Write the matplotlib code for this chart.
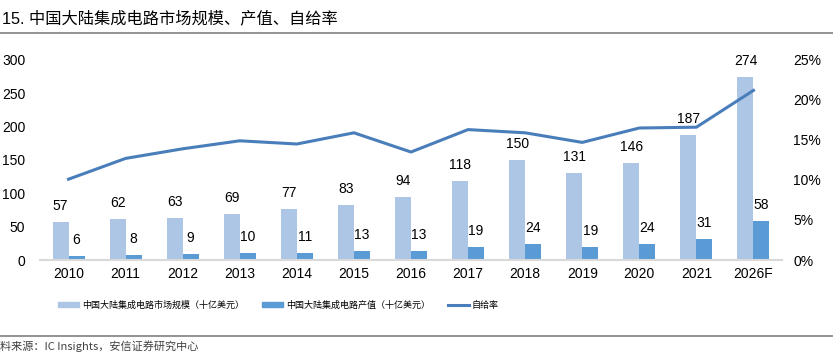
import matplotlib
matplotlib.use("Agg")
import matplotlib.pyplot as plt
import numpy as np
from matplotlib.lines import Line2D
from matplotlib.patches import Patch

plt.rcParams['font.family'] = ['Liberation Sans', 'Noto Sans CJK SC', 'DejaVu Sans']

years = ['2010', '2011', '2012', '2013', '2014', '2015', '2016', '2017', '2018', '2019', '2020', '2021', '2026F']
market = [57, 62, 63, 69, 77, 83, 94, 118, 150, 131, 146, 187, 274]
output = [6, 8, 9, 10, 11, 13, 13, 19, 24, 19, 24, 31, 58]
self_rate = [10.1, 12.7, 13.9, 14.9, 14.5, 15.9, 13.5, 16.3, 15.9, 14.7, 16.5, 16.6, 21.2]

title = '15. 中国大陆集成电路市场规模、产值、自给率'
legend_labels = ['中国大陆集成电路市场规模（十亿美元）', '中国大陆集成电路产值（十亿美元）', '自给率']
source = '料来源：IC Insights，安信证券研究中心'

c_light = '#AEC6E6'
c_dark = '#5B9BD5'
c_line = '#4A7EBB'

W, H = 833, 359
fig = plt.figure(figsize=(W / 100, H / 100), dpi=100)
ax = fig.add_axes([40 / W, 1 - 260 / H, (782 - 40) / W, 200 / H])

x = np.arange(len(years))
bw = 0.28
ax.bar(x - bw / 2, market, width=bw, color=c_light, zorder=2)
ax.bar(x + bw / 2, output, width=bw, color=c_dark, zorder=2)
for xi, v in zip(x, market):
    ax.annotate(str(v), (xi - bw / 2, v), xytext=(0, 11.5), textcoords='offset points',
                ha='center', va='center', fontsize=10, color='#000000')
for xi, v in zip(x, output):
    ax.annotate(str(v), (xi + bw / 2, v), xytext=(0, 11.5), textcoords='offset points',
                ha='center', va='center', fontsize=10, color='#000000')

ax.set_xlim(-0.5, len(years) - 0.5)
ax.set_ylim(0, 300)
ax.set_yticks(range(0, 301, 50))
ax.set_xticks(x)
ax.set_xticklabels(years)
for s in ['top', 'right', 'left']:
    ax.spines[s].set_visible(False)
ax.spines['bottom'].set_color('#D9D9D9')
ax.spines['bottom'].set_linewidth(1.5)
ax.tick_params(axis='both', length=0, labelsize=10, colors='#000000')
ax.tick_params(axis='y', pad=10.5)
ax.tick_params(axis='x', pad=5)

ax2 = ax.twinx()
ax2.plot(x, self_rate, color=c_line, lw=2.2, zorder=3)
ax2.set_ylim(0, 25)
ax2.set_yticks(range(0, 26, 5))
ax2.set_yticklabels([f'{v}%' for v in range(0, 26, 5)])
for s in ['top', 'right', 'left', 'bottom']:
    ax2.spines[s].set_visible(False)
ax2.tick_params(axis='y', length=0, labelsize=10, pad=8)

handles = [Patch(color=c_light), Patch(color=c_dark), Line2D([0], [0], color=c_line, lw=2.2)]
fig.legend(handles, legend_labels, loc='center left', bbox_to_anchor=(50 / W, 1 - 305 / H),
           ncol=3, frameon=False, prop={'family': 'Noto Sans CJK SC', 'size': 6.5},
           handlelength=2.33, handleheight=0.6, handletextpad=0.3, columnspacing=2.0)

fig.text(2 / W, 1 - 18 / H, title, fontsize=11.7, ha='left', va='center',
         family=['Liberation Sans', 'Noto Sans CJK SC'])
fig.add_artist(Line2D([0, 1], [1 - 33 / H, 1 - 33 / H], color='#808080', lw=1.2, transform=fig.transFigure))
fig.add_artist(Line2D([0, 1], [1 - 336 / H, 1 - 336 / H], color='#808080', lw=1.2, transform=fig.transFigure))
fig.text(0, 1 - 346 / H, source, fontsize=8, ha='left', va='center', style='italic', color='#404040',
         family=['Noto Sans CJK SC', 'DejaVu Sans'])

fig.savefig('out.png', dpi=100)
